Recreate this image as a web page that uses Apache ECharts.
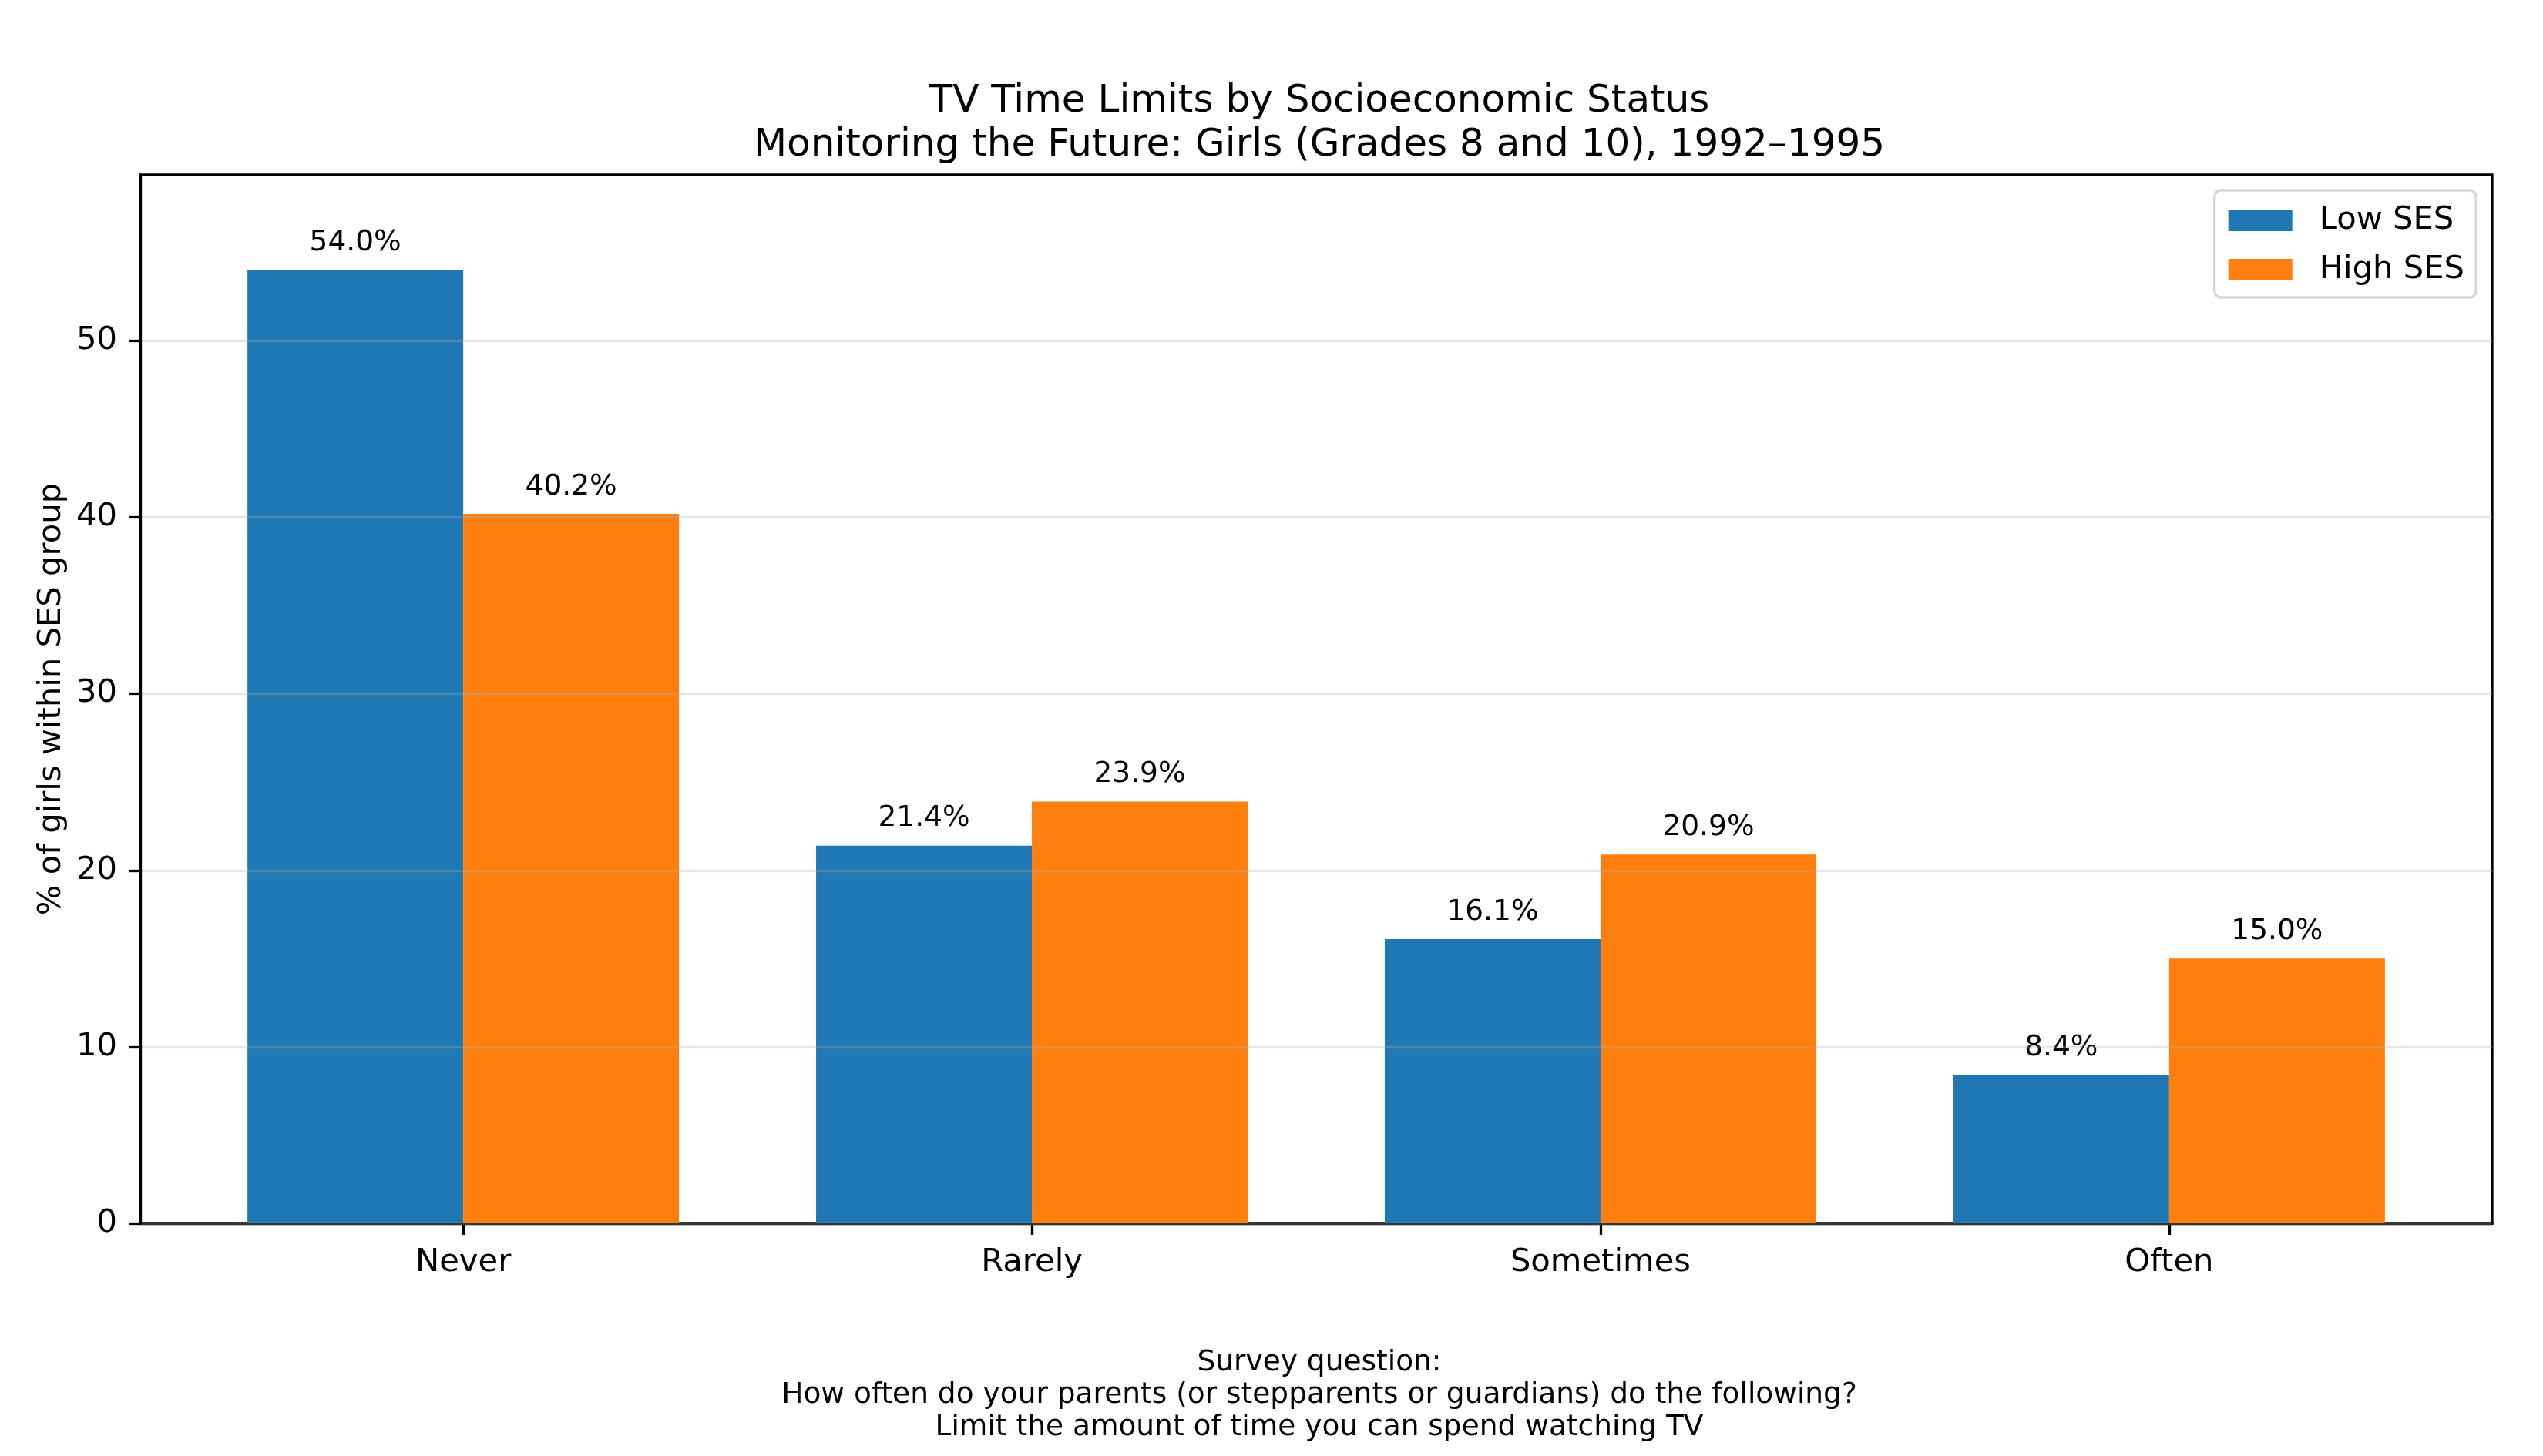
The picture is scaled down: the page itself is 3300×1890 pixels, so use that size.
<!DOCTYPE html>
<html>
<head>
<meta charset="utf-8">
<script src="https://cdn.jsdelivr.net/npm/echarts@6/dist/echarts.min.js"></script>
<style>
html,body{margin:0;padding:0;background:#fff;}
#chart{width:3300px;height:1890px;}
</style>
</head>
<body>
<div id="chart"></div>
<script>
const categories = ['Never', 'Rarely', 'Sometimes', 'Often'];
const lowSES = [54.0, 21.4, 16.1, 8.4];
const highSES = [40.2, 23.9, 20.9, 15.0];
const yTicks = [0, 10, 20, 30, 40, 50];
const seriesNames = ['Low SES', 'High SES'];
const titleText = 'TV Time Limits by Socioeconomic Status\nMonitoring the Future: Girls (Grades 8 and 10), 1992\u20131995';
const footerText = 'Survey question:\nHow often do your parents (or stepparents or guardians) do the following?\nLimit the amount of time you can spend watching TV';
const yAxisName = '% of girls within SES group';

const FONT = 'DejaVu Sans';
const chart = echarts.init(document.getElementById('chart'), null, {renderer: 'canvas'});

const labelOpt = {
  show: true,
  position: 'top',
  distance: 16,
  color: '#000',
  fontFamily: FONT,
  fontSize: 37.5,
  formatter: p => p.value[1].toFixed(1) + '%'
};

const option = {
  backgroundColor: '#fff',
  animation: false,
  title: [
    {
      text: titleText,
      left: 1707,
      top: 99,
      textAlign: 'center',
      textStyle: {fontFamily: FONT, fontSize: 50, fontWeight: 'normal', color: '#000', lineHeight: 57}
    },
    {
      text: footerText,
      left: 1707,
      top: 1743,
      textAlign: 'center',
      textStyle: {fontFamily: FONT, fontSize: 37.5, fontWeight: 'normal', color: '#000', lineHeight: 42}
    }
  ],
  legend: {
    orient: 'vertical',
    right: 87,
    top: 247,
    align: 'left',
    itemWidth: 83,
    itemHeight: 28,
    itemGap: 22,
    padding: [18, 15, 15, 18],
    backgroundColor: '#fff',
    borderColor: '#d6d6d6',
    borderWidth: 3.3,
    borderRadius: 8,
    icon: 'rect',
    textStyle: {fontFamily: FONT, fontSize: 41.7, color: '#000', padding: [0, 0, 0, 30], lineHeight: 42},
    data: seriesNames
  },
  grid: {
    left: 182,
    right: 66,
    top: 227,
    bottom: 302,
    show: true,
    borderColor: '#000',
    borderWidth: 3.3,
    backgroundColor: 'transparent',
    containLabel: false
  },
  xAxis: {
    type: 'value',
    min: -0.568,
    max: 3.568,
    axisLine: {show: true, onZero: false, lineStyle: {color: '#000', width: 3.3}},
    axisTick: {show: true, customValues: [0, 1, 2, 3], length: 15, lineStyle: {color: '#000', width: 3.3}},
    axisLabel: {
      customValues: [0, 1, 2, 3],
      margin: 30,
      fontFamily: FONT,
      fontSize: 41.7,
      color: '#000',
      formatter: v => categories[Math.round(v)]
    },
    splitLine: {show: false}
  },
  yAxis: {
    type: 'value',
    min: 0,
    max: 59.4,
    interval: 10,
    z: 3,
    name: yAxisName,
    nameLocation: 'middle',
    nameGap: 92,
    nameRotate: 90,
    nameTextStyle: {fontFamily: FONT, fontSize: 41.7, color: '#000'},
    axisLine: {show: true, onZero: false, lineStyle: {color: '#000', width: 3.3}},
    axisTick: {show: true, customValues: yTicks, length: 15, lineStyle: {color: '#000', width: 3.3}},
    axisLabel: {
      customValues: yTicks,
      margin: 30,
      fontFamily: FONT,
      fontSize: 41.7,
      color: '#000'
    },
    splitLine: {show: true, lineStyle: {color: 'rgba(176,176,176,0.3)', width: 3.3}}
  },
  series: [
    {
      name: seriesNames[0],
      type: 'bar',
      barWidth: 280,
      barGap: '0%',
      z: 2,
      itemStyle: {color: '#1f77b4'},
      label: labelOpt,
      data: lowSES.map((v, i) => [i, v])
    },
    {
      name: seriesNames[1],
      type: 'bar',
      barWidth: 280,
      barGap: '0%',
      z: 2,
      itemStyle: {color: '#ff7f0e'},
      label: labelOpt,
      data: highSES.map((v, i) => [i, v])
    }
  ]
};
chart.setOption(option);
</script>
</body>
</html>
